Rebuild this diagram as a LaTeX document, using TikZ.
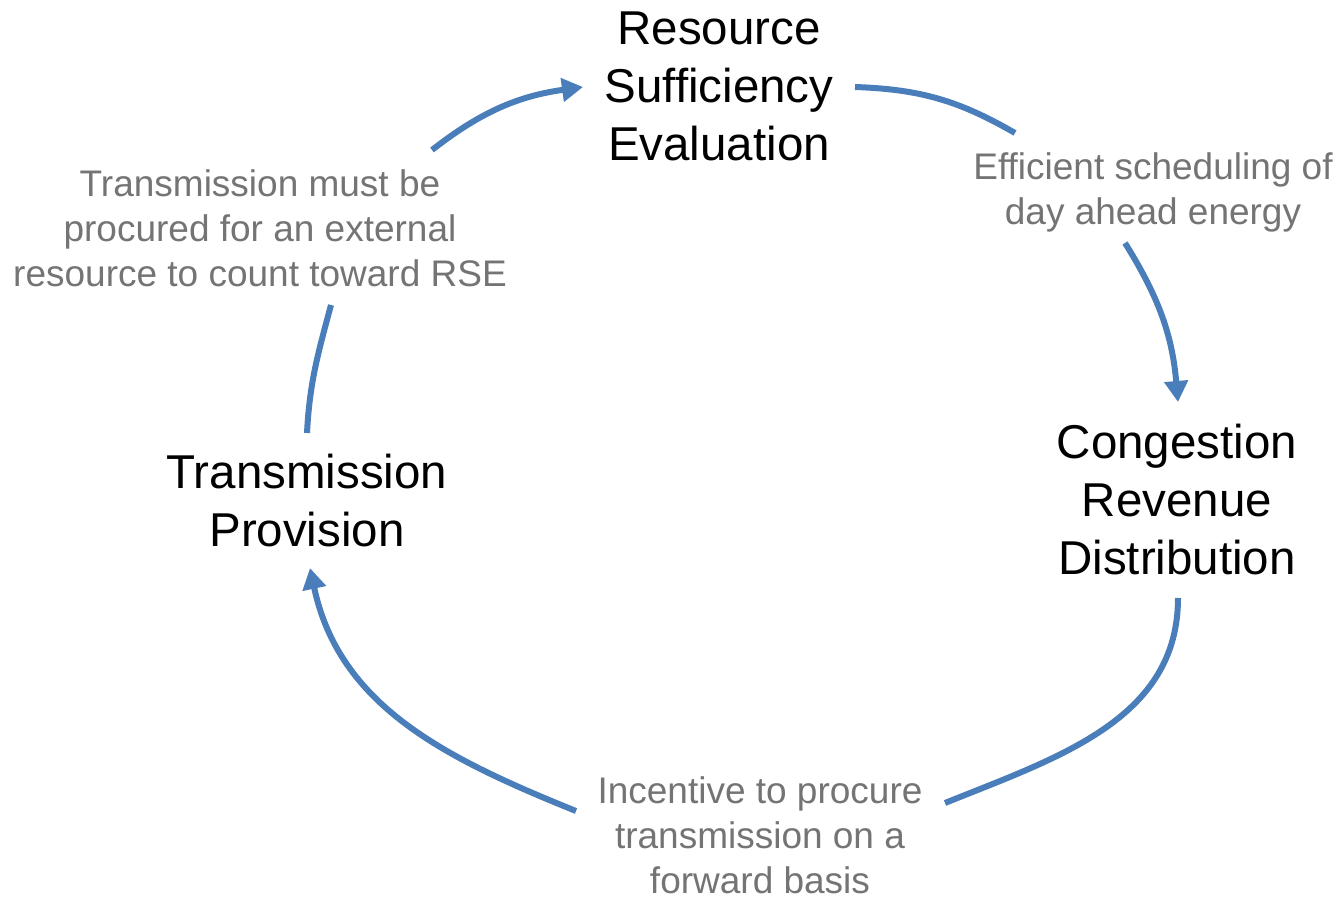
\documentclass[tikz,border=0pt]{standalone}
\usepackage{fontspec}
\setmainfont{Liberation Sans}
\usetikzlibrary{arrows.meta}
\definecolor{cycleblue}{HTML}{4A7EBB}
\definecolor{notegray}{HTML}{747474}
\begin{document}
\begin{tikzpicture}[x=1pt,y=-1pt,
  stage/.style={align=center,inner sep=0pt,font=\fontsize{47.5}{58}\selectfont,text=black},
  note/.style={align=center,inner sep=0pt,font=\fontsize{37}{45}\selectfont,text=notegray},
  flow/.style={draw=cycleblue,line width=6pt},
  flowtip/.style={flow,-{Triangle[width=23pt,length=21pt]}}]
\useasboundingbox (0,0) rectangle (1339,897);
\fill[white] (0,0) rectangle (1339,897);

% stages of the cycle
\node[stage] (rse) at (719,86) {Resource\\Sufficiency\\Evaluation};
\node[stage] (crd) at (1177,500) {Congestion\\Revenue\\Distribution};
\node[stage] (tp)  at (307,501) {Transmission\\Provision};

% explanations on the arcs
\node[note] (ntl) at (260,228) {Transmission must be\\procured for an external\\resource to count toward RSE};
\node[note] (ntr) at (1153,192) {Efficient scheduling of\\day ahead energy};
\node[note] (nb)  at (760,835) {Incentive to procure\\transmission on a\\forward basis};

% arc end points (angles below are measured with y pointing up)
\coordinate (a1) at (432,150);  \coordinate (a2) at (583,87);
\coordinate (b1) at (855,87);   \coordinate (b2) at (1015,133);
\coordinate (c1) at (1125,243); \coordinate (c2) at (1178,402);
\coordinate (d1) at (1178,598); \coordinate (d2) at (945,803);
\coordinate (e1) at (576,811);  \coordinate (e2) at (310,568);
\coordinate (f1) at (307,433);  \coordinate (f2) at (331,305);

% the cycle
\draw[flowtip] (a1) to[out=38,in=188] (a2);
\draw[flow]    (b1) to[out=-2,in=150] (b2);
\draw[flowtip] (c1) to[out=-58,in=95] (c2);
\draw[flow]    (d1) to[out=-90,in=22] (d2);
\draw[flowtip] (e1) to[out=158,in=-78] (e2);
\draw[flow]    (f1) to[out=87,in=-105] (f2);
\end{tikzpicture}
\end{document}
